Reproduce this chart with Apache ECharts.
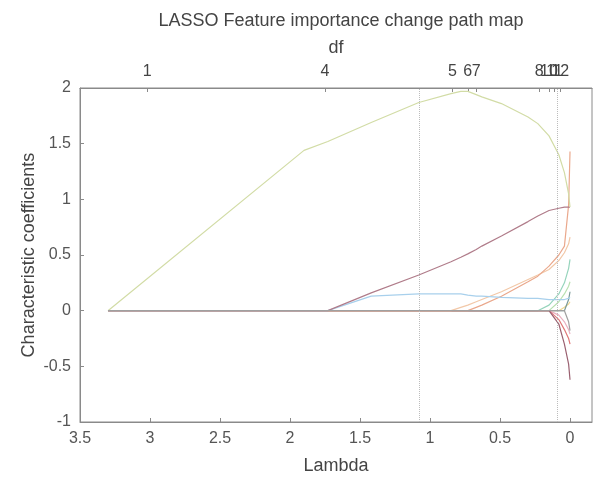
<!DOCTYPE html>
<html>
<head>
<meta charset="utf-8">
<script src="https://cdn.jsdelivr.net/npm/echarts@6/dist/echarts.min.js"></script>
<style>html,body{margin:0;padding:0;background:#fff;}#chart{width:595px;height:480px;}</style>
</head>
<body>
<div id="chart"></div>
<script>
// Lambda knots (x) shared by every coefficient path
const lambdaKnots = [3.30, 1.90, 1.73, 1.42, 1.08, 0.85, 0.78, 0.73, 0.67, 0.63, 0.49, 0.30, 0.23, 0.15, 0.08, 0.04, 0.01, 0.0];

// Coefficient paths
const coefGreen   = [0, 1.44, 1.52, 1.69, 1.87, 1.95, 1.97, 1.97, 1.94, 1.92, 1.86, 1.74, 1.68, 1.57, 1.40, 1.24, 1.05, 0.93];
const coefMaroon  = [0, 0, 0, 0.16, 0.32, 0.44, 0.48, 0.51, 0.55, 0.58, 0.67, 0.80, 0.85, 0.90, 0.92, 0.93, 0.93, 0.93];
const coefBlue    = [0, 0, 0, 0.13, 0.15, 0.15, 0.15, 0.14, 0.13, 0.13, 0.12, 0.11, 0.11, 0.10, 0.10, 0.10, 0.11, 0.12];
const coefPeach   = [0, 0, 0, 0, 0, 0, 0.03, 0.05, 0.08, 0.10, 0.17, 0.28, 0.32, 0.37, 0.45, 0.52, 0.60, 0.66];
const coefSalmon  = [0, 0, 0, 0, 0, 0, 0, 0, 0.03, 0.05, 0.13, 0.26, 0.31, 0.40, 0.50, 0.58, 0.95, 1.43];
const coefTeal    = [0, 0, 0, 0, 0, 0, 0, 0, 0, 0, 0, 0, 0, 0.05, 0.15, 0.25, 0.38, 0.46];
const coefLtGreen = [0, 0, 0, 0, 0, 0, 0, 0, 0, 0, 0, 0, 0, 0, 0.08, 0.15, 0.22, 0.26];
const coefSlate   = [0, 0, 0, 0, 0, 0, 0, 0, 0, 0, 0, 0, 0, 0, 0, 0, 0.10, 0.17];
const coefYellow  = [0, 0, 0, 0, 0, 0, 0, 0, 0, 0, 0, 0, 0, 0, 0, 0.03, 0.06, 0.08];
const coefRed     = [0, 0, 0, 0, 0, 0, 0, 0, 0, 0, 0, 0, 0, 0, -0.08, -0.17, -0.25, -0.30];
const coefPink    = [0, 0, 0, 0, 0, 0, 0, 0, 0, 0, 0, 0, 0, 0, -0.04, -0.10, -0.17, -0.21];
const coefDarkRed = [0, 0, 0, 0, 0, 0, 0, 0, 0, 0, 0, 0, 0, 0, -0.12, -0.30, -0.48, -0.62];
const coefGray    = [0, 0, 0, 0, 0, 0, 0, 0, 0, 0, 0, 0, 0, 0, 0, 0, -0.10, -0.18];

const paths = [coefYellow, coefLtGreen, coefTeal, coefSlate, coefPink, coefRed, coefDarkRed, coefPeach, coefSalmon, coefBlue, coefMaroon, coefGreen, coefGray];
const pathColors = ['#f0d890', '#b8e0b0', '#96d4bc', '#7a9a98', '#eab0c0', '#e07878', '#9a6070', '#f2c8a8', '#eaa88c', '#a8d0ec', '#b07c8a', '#d2dca6', '#a0a0a0'];

// Axis ticks
const lambdaTicks = [0, 0.5, 1, 1.5, 2, 2.5, 3, 3.5];
const yTicks = [-1, -0.5, 0, 0.5, 1, 1.5, 2];
// Top df axis: positions (lambda) and labels
const dfLambda = [3.02, 1.75, 0.84, 0.73, 0.67, 0.22, 0.15, 0.11, 0.07, 0.036];
const dfLabels = ['1', '4', '5', '6', '7', '8', '10', '11', '12', '13'];
// Vertical reference lines (Lambda1SE, LambdaMinMSE)
const cvLambdas = [1.08, 0.093];

const FONT = 'Liberation Sans, Arial, sans-serif';
const chart = echarts.init(document.getElementById('chart'));

const series = paths.map((vals, k) => ({
  type: 'line',
  xAxisIndex: 0,
  data: lambdaKnots.map((l, i) => [l, vals[i]]),
  showSymbol: false,
  symbol: 'none',
  lineStyle: { color: pathColors[k], width: 1.2 },
  itemStyle: { color: pathColors[k] },
  silent: true,
  z: 2
}));
series[0].markLine = {
  silent: true,
  symbol: ['none', 'none'],
  label: { show: false },
  lineStyle: { type: 'dotted', color: '#bcbcbc', width: 1 },
  data: cvLambdas.map(v => ({ xAxis: v }))
};

const xCommon = {
  type: 'value', inverse: true, min: -0.157, max: 3.5,
  splitLine: { show: false },
  nameMoveOverlap: false,
  axisLine: { show: true, onZero: false, lineStyle: { color: '#8a8a8a', width: 1 } }
};

chart.setOption({
  animation: false,
  backgroundColor: '#fff',
  title: {
    text: 'LASSO Feature importance change path map',
    left: 336, top: 7, textAlign: 'center',
    textStyle: { fontFamily: FONT, fontSize: 18, fontWeight: 'normal', color: '#444' }
  },
  grid: { left: 80, right: 3, top: 88, bottom: 55, show: true, borderColor: '#8a8a8a', borderWidth: 1, containLabel: false },
  xAxis: [
    Object.assign({}, xCommon, {
      position: 'bottom',
      name: 'Lambda', nameLocation: 'middle', nameGap: 35,
      nameTextStyle: { fontFamily: FONT, fontSize: 18, color: '#444' },
      axisTick: { show: true, inside: true, length: 4, customValues: lambdaTicks, lineStyle: { color: '#8a8a8a' } },
      axisLabel: { customValues: lambdaTicks, fontFamily: FONT, fontSize: 16, color: '#555', margin: 9 }
    }),
    Object.assign({}, xCommon, {
      position: 'top',
      name: 'df', nameLocation: 'middle', nameGap: 31,
      nameTextStyle: { fontFamily: FONT, fontSize: 18, color: '#444' },
      axisTick: { show: true, inside: true, length: 4, customValues: dfLambda, lineStyle: { color: '#8a8a8a' } },
      axisLabel: {
        customValues: dfLambda, fontFamily: FONT, fontSize: 16, color: '#444', margin: 8,
        formatter: v => {
          let best = 0, bd = Infinity;
          dfLambda.forEach((l, i) => { const d = Math.abs(l - v); if (d < bd) { bd = d; best = i; } });
          return dfLabels[best];
        }
      }
    })
  ],
  yAxis: {
    type: 'value', min: -1, max: 2,
    splitLine: { show: false },
    nameMoveOverlap: false,
    name: 'Characteristic coefficients', nameLocation: 'middle', nameGap: 42,
    nameTextStyle: { fontFamily: FONT, fontSize: 18, color: '#444' },
    axisLine: { show: true, onZero: false, lineStyle: { color: '#8a8a8a', width: 1 } },
    axisTick: { show: true, inside: true, length: 4, customValues: yTicks, lineStyle: { color: '#8a8a8a' } },
    axisLabel: { customValues: yTicks, fontFamily: FONT, fontSize: 16, color: '#555', margin: 9 }
  },
  series: series
});
</script>
</body>
</html>
